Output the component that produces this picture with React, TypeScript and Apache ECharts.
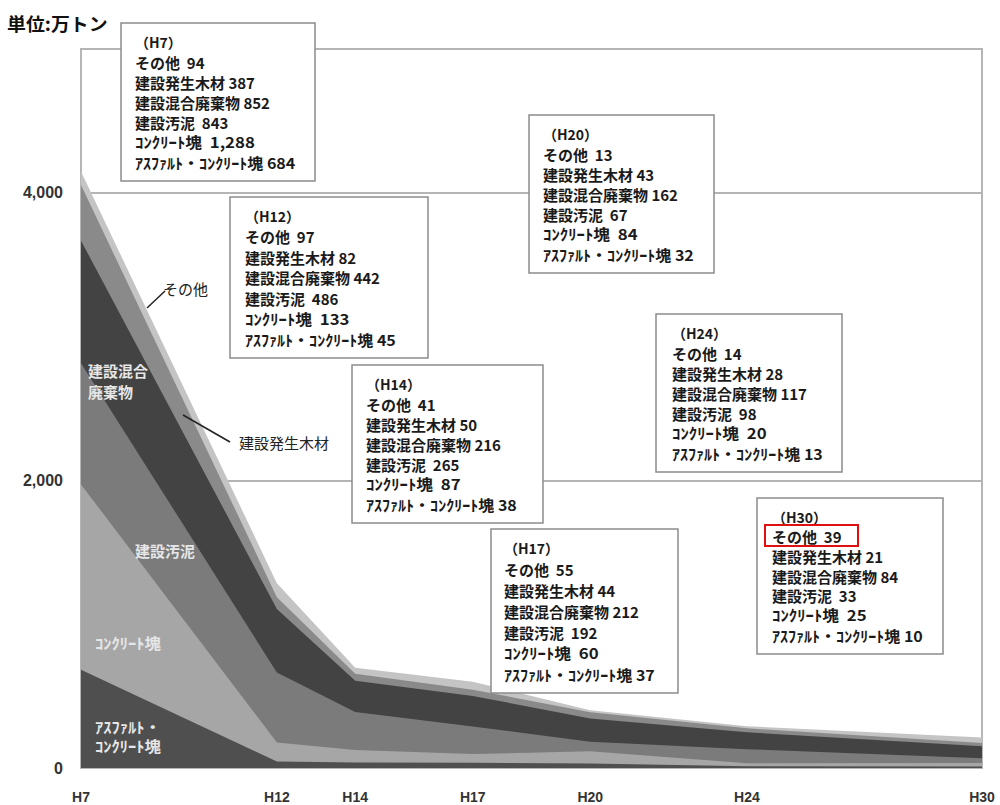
import React, { useEffect, useRef } from "react";
import * as echarts from "echarts";

// ---- data ----
const years = [7, 12, 14, 17, 20, 24, 30];
const yearLabels = ["H7", "H12", "H14", "H17", "H20", "H24", "H30"];
const yTicks = [0, 2000, 4000];
const seriesNames = ["ｱｽﾌｧﾙﾄ・ｺﾝｸﾘｰﾄ塊", "ｺﾝｸﾘｰﾄ塊", "建設汚泥", "建設混合廃棄物", "建設発生木材", "その他"];
const asphalt = [684, 45, 38, 37, 32, 13, 10];
const concrete = [1288, 133, 87, 60, 84, 20, 25];
const sludge = [843, 486, 265, 192, 67, 98, 33];
const mixed = [852, 442, 216, 212, 162, 117, 84];
const wood = [387, 82, 50, 44, 43, 28, 21];
const other = [94, 97, 41, 55, 13, 14, 39];

// ---- styles / layout ----
const layerColors = ["#4f4f4f", "#a6a6a6", "#7b7b7b", "#434343", "#8a8a8a", "#c4c4c4"];
const boxLayout = [
  { x: 121, y: 23, w: 194, h: 158, tx: 135 },
  { x: 230, y: 197, w: 198, h: 161, tx: 245 },
  { x: 352, y: 365, w: 191, h: 158, tx: 366 },
  { x: 491, y: 529, w: 187, h: 164, tx: 504 },
  { x: 529, y: 115, w: 185, h: 158, tx: 543 },
  { x: 656, y: 314, w: 186, h: 158, tx: 672 },
  { x: 757, y: 498, w: 186, h: 156, tx: 772 },
];

const FONT = '"Noto Sans CJK JP", "Noto Sans", sans-serif';

function txt(
  text: string,
  x: number,
  y: number,
  size: number,
  fill: string,
  weight: string = "bold",
  scaleX: number = 1
) {
  return {
    type: "text",
    z: 110,
    x,
    y,
    scaleX,
    style: {
      text,
      x: 0,
      y: 0,
      fill,
      fontSize: size,
      fontWeight: weight,
      fontFamily: FONT,
      align: "left",
      textAlign: "left",
      verticalAlign: "middle",
      textVerticalAlign: "middle",
    },
  };
}

const fmt = (v: number) => v.toLocaleString("en-US");

export default function App() {
  const ref = useRef<HTMLDivElement>(null);
  useEffect(() => {
    document.body.style.margin = "0";
    if (!ref.current) return;
    const chart = echarts.init(ref.current, null, { renderer: "svg" });

    const layers = [asphalt, concrete, sludge, mixed, wood, other];
    // cumulative tops of each layer (bottom -> top)
    const cum: number[][] = [];
    layers.forEach((vals, i) => {
      cum.push(vals.map((v, j) => v + (i > 0 ? cum[i - 1][j] : 0)));
    });
    // draw from the top layer down so lower layers paint over
    const series = layers
      .map((_, i) => ({
        name: seriesNames[i],
        type: "line",
        showSymbol: false,
        symbol: "none",
        lineStyle: { width: 0 },
        areaStyle: { color: layerColors[i], opacity: 1, origin: "start" },
        itemStyle: { color: layerColors[i] },
        data: cum[i].map((v, j) => [years[j], v]),
      }))
      .reverse();

    const graphics: any[] = [];
    graphics.push(txt("単位:万トン", 7, 23, 18, "#111", "bold", 1.05));

    // annotation boxes
    boxLayout.forEach((b, i) => {
      graphics.push({
        type: "rect",
        z: 100,
        shape: { x: b.x, y: b.y, width: b.w, height: b.h },
        style: { fill: "#fff", stroke: "#8c8c8c", lineWidth: 1.5 },
      });
      const lines = [
        { t: `（${yearLabels[i]}）`, s: 14, k: 1 },
        { t: `その他  ${fmt(other[i])}`, s: 15, k: 1 },
        { t: `建設発生木材 ${fmt(wood[i])}`, s: 15, k: 1 },
        { t: `建設混合廃棄物 ${fmt(mixed[i])}`, s: 15, k: 1 },
        { t: `建設汚泥  ${fmt(sludge[i])}`, s: 15, k: 1 },
        { t: `ｺﾝｸﾘｰﾄ塊  ${fmt(concrete[i])}`, s: 15, k: 1.12 },
        { t: `ｱｽﾌｧﾙﾄ・ｺﾝｸﾘｰﾄ塊 ${fmt(asphalt[i])}`, s: 15, k: 1.07 },
      ];
      const step = (b.h - 38) / 6;
      lines.forEach((l, k) => {
        graphics.push(txt(l.t, b.tx, b.y + 19 + k * step, l.s, "#1a1a1a", "bold", l.k));
      });
    });

    // red highlight around H30 "その他"
    graphics.push({
      type: "rect",
      z: 120,
      shape: { x: 765, y: 525, width: 93, height: 21 },
      style: { fill: "none", stroke: "#e01010", lineWidth: 2 },
    });

    // in-chart labels
    graphics.push(txt("その他", 163, 288, 15, "#222", "normal"));
    graphics.push({
      type: "line",
      z: 110,
      shape: { x1: 147, y1: 308, x2: 165, y2: 291 },
      style: { stroke: "#222", lineWidth: 1.5 },
    });
    graphics.push(txt("建設発生木材", 239, 442, 15, "#222", "normal"));
    graphics.push({
      type: "line",
      z: 110,
      shape: { x1: 183, y1: 415, x2: 230, y2: 442 },
      style: { stroke: "#222", lineWidth: 1.5 },
    });
    const white = "#e6e6e6";
    graphics.push(txt("建設混合", 88, 370, 15, white));
    graphics.push(txt("廃棄物", 88, 391, 15, white));
    graphics.push(txt("建設汚泥", 135, 550, 15, white));
    graphics.push(txt("ｺﾝｸﾘｰﾄ塊", 95, 643, 15, white, "bold", 1.1));
    graphics.push(txt("ｱｽﾌｧﾙﾄ・", 95, 727, 15, white, "bold", 1.1));
    graphics.push(txt("ｺﾝｸﾘｰﾄ塊", 95, 746, 15, white, "bold", 1.1));

    chart.setOption({
      animation: false,
      backgroundColor: "#fff",
      grid: {
        left: 81,
        right: 18,
        top: 49,
        bottom: 37,
        show: true,
        borderColor: "#b5b5b5",
        borderWidth: 2,
        containLabel: false,
      },
      xAxis: {
        type: "value",
        min: years[0],
        max: years[years.length - 1],
        axisLine: { show: false },
        axisTick: { show: false },
        splitLine: { show: false },
        axisLabel: {
          customValues: years,
          formatter: (v: number) => {
            const idx = years.indexOf(v);
            return idx >= 0 ? yearLabels[idx] : "";
          },
          color: "#333",
          fontSize: 14,
          fontWeight: "bold",
          fontFamily: '"Liberation Sans", Arial, sans-serif',
          margin: 22,
        },
      },
      yAxis: {
        type: "value",
        min: 0,
        max: 5000,
        interval: 2000,
        axisLine: { show: false },
        axisTick: { show: false },
        splitLine: { show: true, lineStyle: { color: "#b5b5b5", width: 2 } },
        axisLabel: {
          formatter: (v: number) => (yTicks.indexOf(v) >= 0 ? fmt(v) : ""),
          color: "#333",
          fontSize: 16,
          fontWeight: "bold",
          fontFamily: '"Liberation Sans", Arial, sans-serif',
          margin: 18,
        },
      },
      series,
      graphic: { elements: graphics },
    });
    return () => chart.dispose();
  }, []);
  return <div ref={ref} style={{ width: 1000, height: 805 }} />;
}
